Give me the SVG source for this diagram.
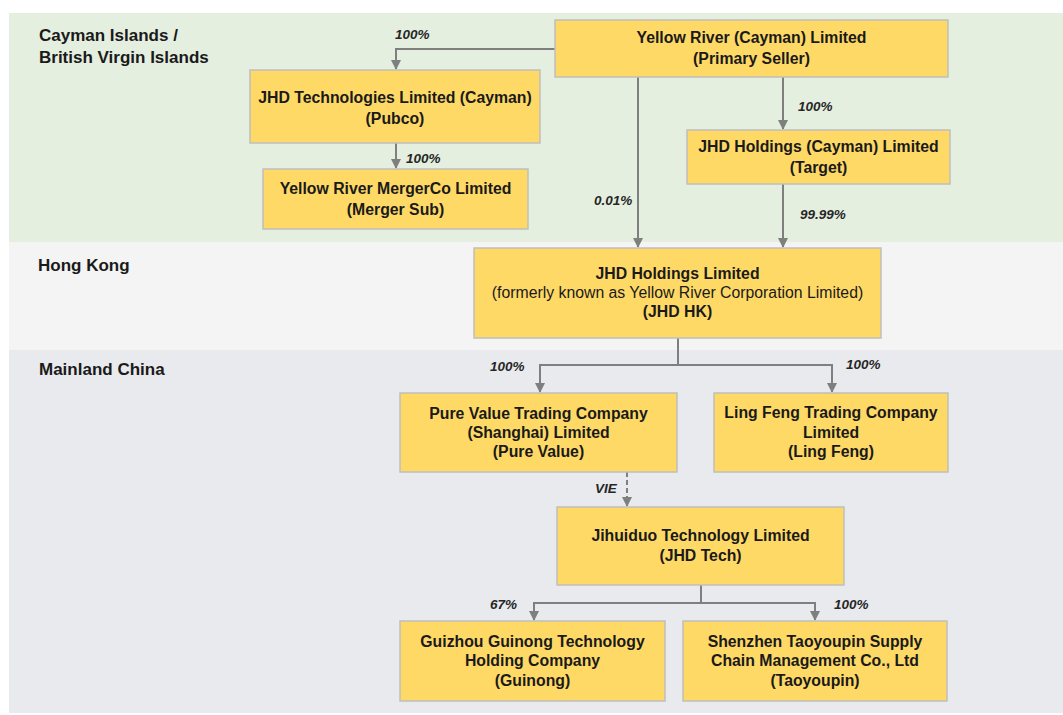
<svg xmlns="http://www.w3.org/2000/svg" width="1063" height="715" viewBox="0 0 1063 715">
<defs>
<marker id="ah" viewBox="0 0 10 10" refX="9" refY="5" markerWidth="5" markerHeight="5" orient="auto" markerUnits="strokeWidth">
<path d="M0,0 L10,5 L0,10 z" fill="#7f7f7f"/>
</marker>
<style>
.box{fill:#ffd966;stroke:#bfbfbf;stroke-width:1.5}
.t{font-family:"Liberation Sans",Arial,sans-serif;font-size:15.8px;font-weight:bold;fill:#1a1a1a;text-anchor:middle}
.n{font-weight:normal}
.band{font-family:"Liberation Sans",Arial,sans-serif;font-size:17px;font-weight:bold;fill:#1a1a1a}
.lbl{font-family:"Liberation Sans",Arial,sans-serif;font-size:13.5px;font-weight:bold;font-style:italic;fill:#262626}
.c{fill:none;stroke:#7f7f7f;stroke-width:2}
.a{marker-end:url(#ah)}
.d{stroke-dasharray:5,3}
</style>
</defs>
<rect x="0" y="0" width="1063" height="715" fill="#ffffff"/>
<g id="bands">
<rect x="9" y="13" width="1054" height="229" fill="#e4efe0"/>
<rect x="9" y="242" width="1054" height="108" fill="#f3f4f3"/>
<rect x="9" y="350" width="1054" height="363" fill="#e9eaee"/>
<text class="band" x="39" y="41">Cayman Islands /</text>
<text class="band" x="39" y="63">British Virgin Islands</text>
<text class="band" x="38" y="271">Hong Kong</text>
<text class="band" x="39" y="375">Mainland China</text>
</g>
<g id="connectors">
<path class="c a" d="M555,49 H396 V69"/>
<path class="c a" d="M396,143 V168"/>
<path class="c a" d="M638,77 V247"/>
<path class="c a" d="M783,77 V129"/>
<path class="c a" d="M783,184 V247"/>
<path class="c" d="M678,338 V365 M540,365 H832"/>
<path class="c a" d="M540,364 V392"/>
<path class="c a" d="M832,364 V392"/>
<path class="c a d" d="M627,472 V506"/>
<path class="c" d="M701,585 V603 M534,603 H815"/>
<path class="c a" d="M534,602 V620"/>
<path class="c a" d="M815,602 V620"/>
<text class="lbl" x="395" y="39">100%</text>
<text class="lbl" x="406" y="163">100%</text>
<text class="lbl" x="594" y="205">0.01%</text>
<text class="lbl" x="798" y="111">100%</text>
<text class="lbl" x="800" y="219">99.99%</text>
<text class="lbl" x="490" y="371">100%</text>
<text class="lbl" x="846" y="369">100%</text>
<text class="lbl" x="595" y="493">VIE</text>
<text class="lbl" x="490" y="609">67%</text>
<text class="lbl" x="834" y="609">100%</text>
</g>
<g id="yellow-river-cayman">
<rect class="box" x="555" y="20" width="393" height="57"/>
<text class="t" x="751.5" y="43">Yellow River (Cayman) Limited</text>
<text class="t" x="751.5" y="64">(Primary Seller)</text>
</g>
<g id="pubco">
<rect class="box" x="250" y="70" width="290" height="73"/>
<text class="t" x="395" y="103">JHD Technologies Limited (Cayman)</text>
<text class="t" x="395" y="124">(Pubco)</text>
</g>
<g id="merger-sub">
<rect class="box" x="263" y="169" width="265" height="60"/>
<text class="t" x="395.5" y="194">Yellow River MergerCo Limited</text>
<text class="t" x="395.5" y="215">(Merger Sub)</text>
</g>
<g id="target">
<rect class="box" x="687" y="130" width="263" height="54"/>
<text class="t" x="818.5" y="152">JHD Holdings (Cayman) Limited</text>
<text class="t" x="818.5" y="173">(Target)</text>
</g>
<g id="jhd-hk">
<rect class="box" x="474" y="248" width="407" height="90"/>
<text class="t" x="677.5" y="279">JHD Holdings Limited</text>
<text class="t n" x="677.5" y="298">(formerly known as Yellow River Corporation Limited)</text>
<text class="t" x="677.5" y="317">(JHD HK)</text>
</g>
<g id="pure-value">
<rect class="box" x="400" y="393" width="277" height="79"/>
<text class="t" x="538.5" y="419">Pure Value Trading Company</text>
<text class="t" x="538.5" y="438">(Shanghai) Limited</text>
<text class="t" x="538.5" y="457">(Pure Value)</text>
</g>
<g id="ling-feng">
<rect class="box" x="714" y="393" width="234" height="79"/>
<text class="t" x="831" y="418">Ling Feng Trading Company</text>
<text class="t" x="831" y="438">Limited</text>
<text class="t" x="831" y="457">(Ling Feng)</text>
</g>
<g id="jhd-tech">
<rect class="box" x="557" y="507" width="287" height="78"/>
<text class="t" x="700.5" y="541">Jihuiduo Technology Limited</text>
<text class="t" x="700.5" y="561">(JHD Tech)</text>
</g>
<g id="guinong">
<rect class="box" x="400" y="621" width="265" height="80"/>
<text class="t" x="532.5" y="647">Guizhou Guinong Technology</text>
<text class="t" x="532.5" y="666">Holding Company</text>
<text class="t" x="532.5" y="686">(Guinong)</text>
</g>
<g id="taoyoupin">
<rect class="box" x="683" y="621" width="264" height="80"/>
<text class="t" x="815" y="647">Shenzhen Taoyoupin Supply</text>
<text class="t" x="815" y="666">Chain Management Co., Ltd</text>
<text class="t" x="815" y="686">(Taoyoupin)</text>
</g>
</svg>
